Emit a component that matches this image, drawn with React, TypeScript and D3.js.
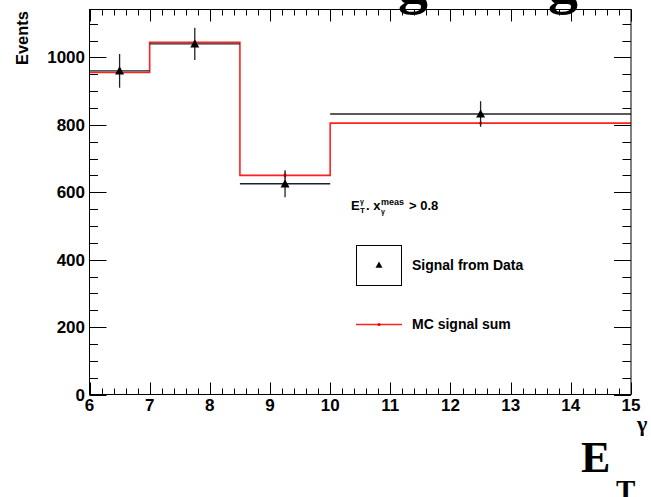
import React from "react";
import * as d3 from "d3";

const binEdges = [6, 7, 8.5, 10, 15];
const dataValues = [960, 1040, 625, 832];
const dataErrors = [50, 48, 40, 38];
const mcValues = [955, 1045, 650, 805];
const mcErrors = [5, 6, 9, 6];
const xTicks = [6, 7, 8, 9, 10, 11, 12, 13, 14, 15];
const yTicks = [0, 200, 400, 600, 800, 1000];

const W = 651, H = 497;
const L = 89.5, R = 631, T = 9.5, B = 394.5;

export default function App() {
  const x = d3.scaleLinear().domain([6, 15]).range([L, R]);
  const y = d3.scaleLinear().domain([0, 1142]).range([B, T]);
  const xMinor = d3.range(6, 15.001, 0.2);
  const yMinor = d3.range(0, 1142, 50);
  const font = "'Liberation Sans', Arial, sans-serif";
  const serif = "'Liberation Serif', 'Times New Roman', serif";

  const centers = binEdges.slice(0, -1).map((e, i) => (e + binEdges[i + 1]) / 2);

  const stepPts: [number, number][] = [];
  mcValues.forEach((v, i) => {
    stepPts.push([binEdges[i], v]);
    stepPts.push([binEdges[i + 1], v]);
  });
  const line = d3.line<[number, number]>().x(d => x(d[0])).y(d => y(d[1]));

  const tri = (cx: number, cy: number, s = 4.5) =>
    `M${cx},${cy - s} L${cx + s},${cy + s * 0.8} L${cx - s},${cy + s * 0.8} Z`;

  const ay = 210; // annotation baseline

  return (
    <svg width={W} height={H} style={{ position: "absolute", left: 0, top: 0, background: "#fff" }}>
      <rect x={0} y={0} width={W} height={H} fill="#fff" />
      {/* title remnants */}
      <text x={398} y={2} fontFamily={serif} fontWeight="bold" fontSize={60}>g</text>
      <text x={548} y={2} fontFamily={serif} fontWeight="bold" fontSize={60}>g</text>

      {/* MC step */}
      <path d={line(stepPts) || ""} fill="none" stroke="#ff2020" strokeWidth={1.6} />
      {mcValues.map((v, i) => (
        <g key={"mc" + i}>
          <line x1={x(centers[i])} x2={x(centers[i])} y1={y(v - mcErrors[i])} y2={y(v + mcErrors[i])} stroke="#ff0000" strokeWidth={1.2} />
          <circle cx={x(centers[i])} cy={y(v)} r={1.6} fill="#ff0000" />
        </g>
      ))}

      {/* data */}
      {dataValues.map((v, i) => (
        <g key={"d" + i}>
          <line x1={x(binEdges[i])} x2={x(binEdges[i + 1])} y1={y(v)} y2={y(v)} stroke="#222" strokeWidth={1.4} />
          <line x1={x(centers[i])} x2={x(centers[i])} y1={y(v - dataErrors[i])} y2={y(v + dataErrors[i])} stroke="#222" strokeWidth={1.3} />
          <path d={tri(x(centers[i]), y(v))} fill="#000" />
        </g>
      ))}

      {/* frame */}
      <rect x={L} y={T} width={R - L} height={B - T} fill="none" stroke="#000" strokeWidth={1} />

      {/* x ticks */}
      {xMinor.map((v, i) => {
        const major = Math.abs(v - Math.round(v)) < 1e-6;
        const len = major ? 12 : 6;
        const px = Math.round(x(v)) + 0.5;
        return (
          <g key={"xt" + i}>
            <line x1={px} x2={px} y1={B} y2={B - len} stroke="#000" />
            <line x1={px} x2={px} y1={T} y2={T + len} stroke="#000" />
          </g>
        );
      })}
      {xTicks.map(v => (
        <text key={"xl" + v} x={x(v)} y={411} textAnchor="middle" fontFamily={font} fontWeight="bold" fontSize={17}>{v}</text>
      ))}

      {/* y ticks */}
      {yMinor.map((v, i) => {
        const major = v % 200 === 0;
        const len = major ? 17 : 8.5;
        const py = Math.round(y(v)) + 0.5;
        return (
          <g key={"yt" + i}>
            <line x1={L} x2={L + len} y1={py} y2={py} stroke="#000" />
            <line x1={R} x2={R - len} y1={py} y2={py} stroke="#000" />
          </g>
        );
      })}
      {yTicks.map(v => (
        <text key={"yl" + v} x={85} y={y(v) + 6} textAnchor="end" fontFamily={font} fontWeight="bold" fontSize={17}>{v}</text>
      ))}

      {/* y title */}
      <text transform="translate(28,11) rotate(-90)" textAnchor="end" fontFamily={font} fontWeight="bold" fontSize={16.5}>Events</text>

      {/* x title */}
      <text x={581} y={472} fontFamily={serif} fontWeight="bold" fontSize={44}>E</text>
      <text x={616} y={500} fontFamily={serif} fontWeight="bold" fontSize={29}>T</text>
      <text x={637} y={431} fontFamily={serif} fontWeight="bold" fontSize={22}>γ</text>

      {/* annotation */}
      <text x={351} y={ay} fontFamily={font} fontWeight="bold" fontSize={13}>E</text>
      <text x={360} y={ay + 3} fontFamily={font} fontWeight="bold" fontSize={8}>T</text>
      <text x={360} y={ay - 6} fontFamily={font} fontWeight="bold" fontSize={7}>γ</text>
      <text x={366} y={ay} fontFamily={font} fontWeight="bold" fontSize={13}>. x</text>
      <text x={381} y={ay - 5} fontFamily={font} fontWeight="bold" fontSize={9}>meas</text>
      <text x={381} y={ay + 4} fontFamily={font} fontWeight="bold" fontSize={7}>γ</text>
      <text x={409} y={ay} fontFamily={font} fontWeight="bold" fontSize={13}>&gt; 0.8</text>

      {/* legend */}
      <rect x={356.5} y={245.5} width={45} height={40} fill="none" stroke="#000" />
      <path d={tri(379, 265, 3.5)} fill="#000" />
      <text x={412} y={270} fontFamily={font} fontWeight="bold" fontSize={14}>Signal from Data</text>
      <line x1={356} x2={402} y1={324.5} y2={324.5} stroke="#ff2020" strokeWidth={1.5} />
      <circle cx={379} cy={324.5} r={1.6} fill="#ff0000" />
      <text x={412} y={329} fontFamily={font} fontWeight="bold" fontSize={14}>MC signal sum</text>
    </svg>
  );
}
